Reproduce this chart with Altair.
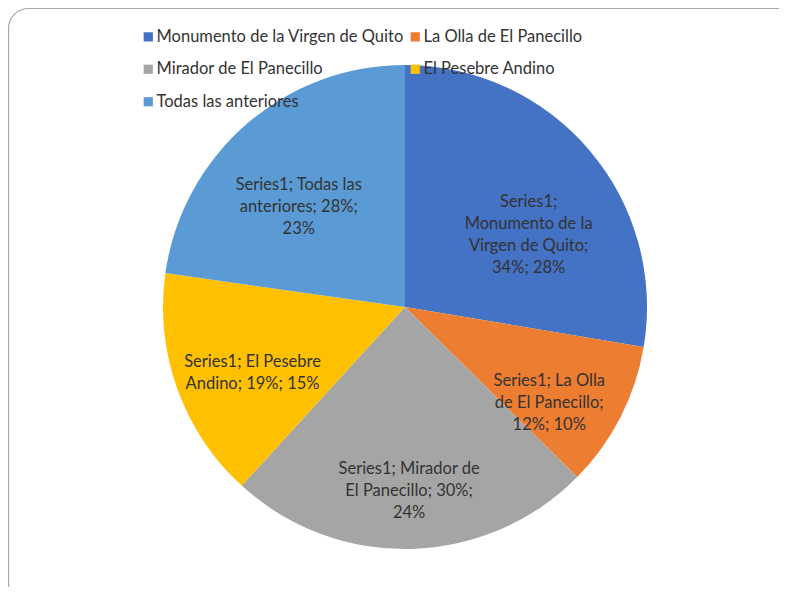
import math
import altair as alt
import pandas as pd

categories = [
    "Monumento de la Virgen de Quito",
    "La Olla de El Panecillo",
    "Mirador de El Panecillo",
    "El Pesebre Andino",
    "Todas las anteriores",
]
values = [34, 12, 30, 19, 28]
percents = [28, 10, 24, 15, 23]
label_lines = [
    ["Series1;", "Monumento de la", "Virgen de Quito;", "34%; 28%"],
    ["Series1; La Olla", "de El Panecillo;", "12%; 10%"],
    ["Series1; Mirador de", "El Panecillo; 30%;", "24%"],
    ["Series1; El Pesebre", "Andino; 19%; 15%"],
    ["Series1; Todas las", "anteriores; 28%;", "23%"],
]
colors = ["#4472C4", "#ED7D31", "#A5A5A5", "#FFC000", "#5B9BD5"]

df = pd.DataFrame({
    "idx": list(range(len(categories))),
    "category": categories,
    "value": values,
    "percent": percents,
    "label": ["\n".join(l) for l in label_lines],
})

FONT = "Lato"
TXT = "#333333"
FRAME = "#A6A6A6"
W, H = 793, 597
R = 20  # frame corner radius

base = alt.Chart(df).encode(
    theta=alt.Theta("value:Q", stack=True),
    order=alt.Order("idx:Q"),
)

pie = base.mark_arc(outerRadius=242).encode(
    color=alt.Color(
        "category:N",
        sort=categories,
        scale=alt.Scale(domain=categories, range=colors),
        legend=alt.Legend(
            title=None,
            orient="none",
            legendX=131.5,
            legendY=20,
            direction="horizontal",
            columns=2,
            columnPadding=3,
            rowPadding=15.5,
            symbolType="square",
            symbolSize=85,
            symbolStrokeWidth=0,
            labelFont=FONT,
            labelFontSize=16.5,
            labelColor=TXT,
            labelLimit=400,
            labelOffset=0,
        ),
    )
)

labels = base.mark_text(
    radius=162,
    font=FONT,
    fontSize=16.5,
    lineHeight=22,
    lineBreak="\n",
    color=TXT,
    align="center",
    baseline="middle",
).encode(text="label:N")

# decorative slide frame: top edge, left edge and rounded top-left corner
one = alt.Data(values=[{}])
top_edge = alt.Chart(one).mark_rule(color=FRAME, strokeWidth=1.2).encode(
    x=alt.value(R), x2=alt.value(W + 40), y=alt.value(0)
)
left_edge = alt.Chart(one).mark_rule(color=FRAME, strokeWidth=1.2).encode(
    x=alt.value(0), y=alt.value(R), y2=alt.value(H + 40)
)
corner = alt.Chart(one).mark_arc(
    innerRadius=R - 0.6, outerRadius=R + 0.6, color=FRAME
).encode(
    x=alt.value(R),
    y=alt.value(R),
    theta=alt.value(1.5 * math.pi),
    theta2=alt.value(2 * math.pi),
)

chart = alt.layer(top_edge, left_edge, corner, pie, labels).properties(
    width=W,
    height=H,
    autosize=alt.AutoSizeParams(type="none"),
    padding={"left": 0.5, "top": 0.5, "right": -22.5, "bottom": -18.5},
).configure_view(stroke=None)

chart.save("out.html", embed_options={"renderer": "svg", "actions": False})
